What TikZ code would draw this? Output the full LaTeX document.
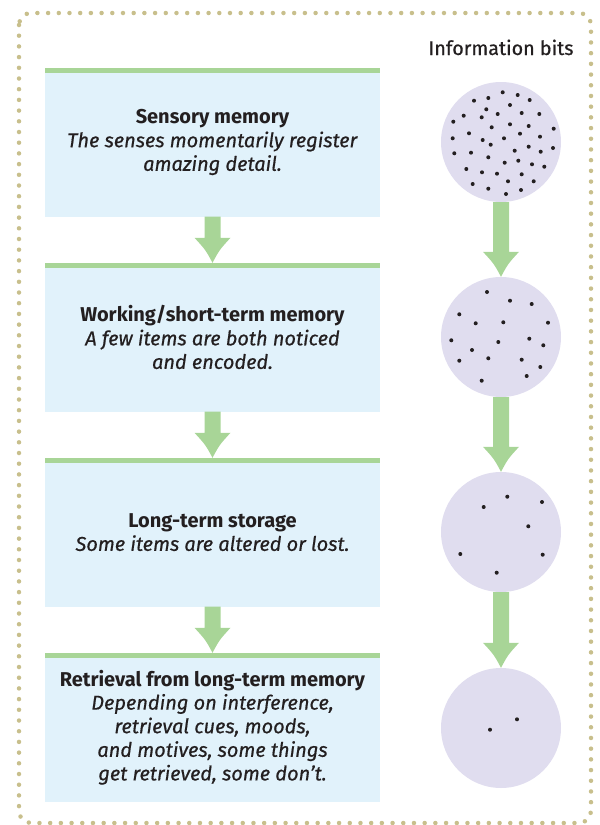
\documentclass[tikz,border=0pt]{standalone}
\usepackage{fontspec}
\setmainfont{Fira Sans}[ItalicFeatures={FakeBold=0.6},UprightFeatures={FakeBold=0.6},BoldFeatures={FakeBold=0}]
\usetikzlibrary{calc}
\definecolor{boxblue}{HTML}{E1F2FB}
\definecolor{lgreen}{HTML}{A8D597}
\definecolor{lav}{HTML}{E0DDEF}
\definecolor{dotcol}{HTML}{C8BF8C}
\definecolor{ink}{HTML}{231F20}
\begin{document}
\begin{tikzpicture}[x=1pt,y=-1pt,
  box/.style={fill=boxblue, minimum width=335pt, minimum height=148.5pt, inner sep=0pt,
    align=center, text=ink, font=\fontsize{20}{23.6}\selectfont},
  bits/.style={circle, fill=lav, minimum size=120pt, inner sep=0pt},
  bit/.style={fill=ink},
  border/.style={draw=dotcol, line width=4.5pt, line cap=round, dash pattern=on 0pt off 10.7pt, rounded corners=12pt},
  fatarrow/.style={to path={let \p1=(\tikztostart), \p2=(\tikztotarget) in
    (\x1-8pt,\y1) -- (\x1+8pt,\y1) -- (\x1+8pt,\y2+25pt) -- (\x1+18pt,\y2+25pt)
    .. controls (\x1+7pt,\y2+13pt) .. (\x1,\y2)
    .. controls (\x1-7pt,\y2+13pt) .. (\x1-18pt,\y2+25pt) -- (\x1-8pt,\y2+25pt) -- cycle}}]
\useasboundingbox (0,0) rectangle (600,825);
\draw[border] (19,13) rectangle (591,823);

\node[box] (b1) at (212.5,142.25) {\textbf{Sensory memory}\\\textit{The senses momentarily register}\\\textit{amazing detail.}};
\node[box] (b2) at (212.5,337.25) {\textbf{Working/short-term memory}\\\textit{A few items are both noticed}\\\textit{and encoded.}};
\node[box] (b3) at (212.5,532.25) {\textbf{Long-term storage}\\\textit{Some items are altered or lost.}};
\node[box] (b4) at (212.5,727.25) {\textbf{Retrieval from long-term memory}\\\textit{Depending on interference,}\\\textit{retrieval cues, moods,}\\\textit{and motives, some things}\\\textit{get retrieved, some don’t.}};
\foreach \b in {b1,b2,b3,b4}
  \fill[lgreen] (\b.north west) rectangle ([yshift=-5pt]\b.north east);

\fill[lgreen, fatarrow] (b1.south) to (b2.north);
\fill[lgreen, fatarrow] (b2.south) to (b3.north);
\fill[lgreen, fatarrow] (b3.south) to (b4.north);

\node[font=\fontsize{19.7}{22}\selectfont, text=ink, anchor=base] (hd) at (501,55) {Information bits};

\node[bits] (c1) at (501,142) {};
\node[bits] (c2) at (501,337) {};
\node[bits] (c3) at (501,532) {};
\node[bits] (c4) at (501,728) {};

\fill[lgreen, fatarrow] (c1.south) to (c2.north);
\fill[lgreen, fatarrow] (c2.south) to (c3.north);
\fill[lgreen, fatarrow] (c3.south) to (c4.north);

\begin{scope}[shift={(c1.center)}]
\foreach \p in {(1.7,-49.7),(16.7,-47),(-27,-41.3),(-12.7,-44),(28.7,-42),(9,-37),(-14.7,-32.7),(-37.3,-26.3),(-19.3,-24.7),(-3.3,-28),(20.7,-29),(38.3,-28),(-47.7,-20.3),(9,-17.7),(-9.3,-14.7),(27.7,-16),(52.7,-13.3),(-32,-8.7),(19,-8.3),(-48.3,-3.7),(-18.3,-2),(3,-3.7),(39,-5.3),(-10.3,2.7),(27.7,4.7),(52,6),(-46.7,11.3),(-30,10.7),(13.7,8.7),(39.7,9.7),(-12.7,15.3),(17.3,18.7),(3.7,20.7),(31,22.3),(43.3,24.7),(-34.7,27),(-19,30.3),(-4,31.7),(20.7,32.3),(7,39.3),(32.7,39.3),(-28.3,42),(-12.7,46.7),(5,52),(20,48)}
  \fill[bit] \p circle (2pt);
\end{scope}
\begin{scope}[shift={(c2.center)}]
\foreach \p in {(-14,-45),(9,-36.3),(30.7,-33),(-41.7,-22.7),(-25.3,-13.7),(2.3,-14.7),(47,-14.3),(-49.7,3.3),(-2.7,5),(28.3,1.7),(42.3,8.3),(-29,13),(-41.7,23.7),(-12.7,21.3),(20.7,22.7),(39.3,30),(-19.3,43.7),(25.7,39)}
  \fill[bit] \p circle (2pt);
\end{scope}
\begin{scope}[shift={(c3.center)}]
\foreach \p in {(6.3,-35.3),(-17.3,-25),(41,-30),(27.3,-5.7),(-40.7,22),(41.7,22.7),(-4.3,40.7)}
  \fill[bit] \p circle (2pt);
\end{scope}
\begin{scope}[shift={(c4.center)}]
\foreach \p in {(16,-8.7),(-11,1.7)}
  \fill[bit] \p circle (2pt);
\end{scope}
\end{tikzpicture}
\end{document}
